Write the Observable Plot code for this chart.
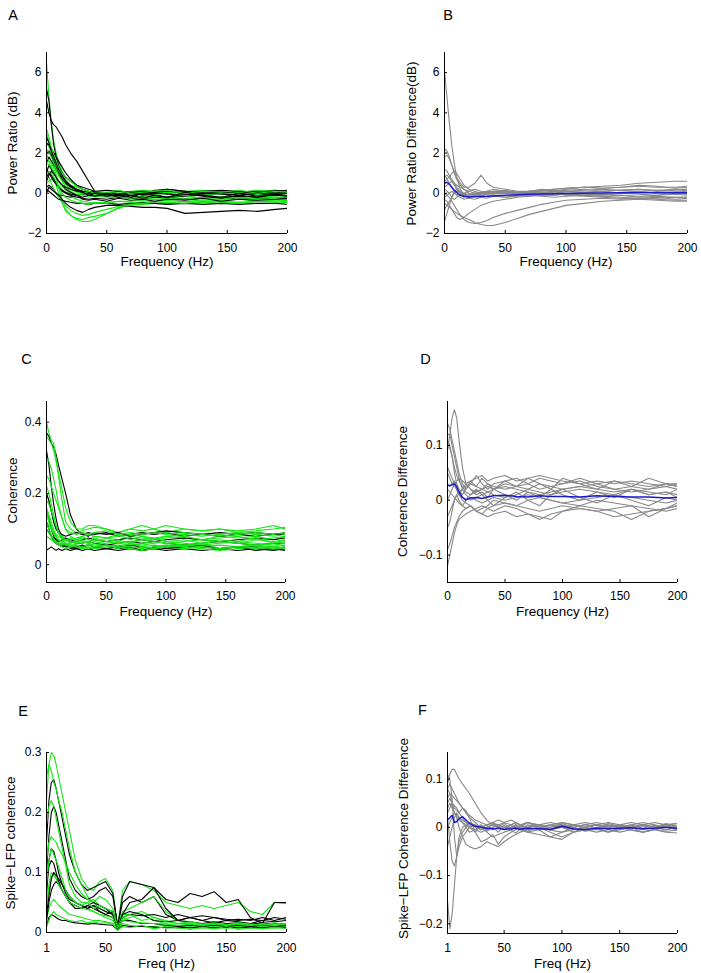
<!DOCTYPE html>
<html><head><meta charset="utf-8">
<script src="https://cdn.jsdelivr.net/npm/d3@7"></script>
<script src="https://cdn.jsdelivr.net/npm/@observablehq/plot@0.6"></script>
<style>
body{margin:0;background:#fff;}
#wrap{position:relative;width:701px;height:973px;background:#fff;overflow:hidden;}
#wrap svg{position:absolute;}
</style></head><body><div id="wrap"></div>
<script>
// ---------- frequency grids ----------
const freqAB = [0,2,4,6,8,10,13,16,20,25, 30,35,40,50,60,70,80,90,100,115, 130,145,160,175,190,200];
const freqCD = freqAB;
const freqEF = [1,3,5,7,9,11,14,17,20,25, 30,35,40,45,50,56,60,64,70,80, 90,100,110,120,130,140,150,160,170,180, 190,200];

// ---------- tick values ----------
const xTicksFreq = [0,50,100,150,200];
const xTicksFreqE = [1,50,100,150,200];
const yTicksA = [-2,0,2,4,6];
const yTicksC = [0,0.2,0.4];
const yTicksD = [-0.1,0,0.1];
const yTicksE = [0,0.1,0.2,0.3];
const yTicksF = [-0.2,-0.1,0,0.1];

// ---------- Panel A: power ratio (dB) ----------
const powerGreen = [
  [6.5,4.8,3.5,2.6,2.0,1.6,1.1,0.7,0.3,0.1, 0.0,-0.05,0.0,-0.1,0.0,-0.1,0.05,-0.05,0.0,0.1, -0.05,0.0,0.1,0.0,0.05,0.1],
  [3.0,2.6,2.0,1.4,0.8,0.3,-0.3,-0.8,-1.1,-1.3, -1.4,-1.4,-1.3,-1.0,-0.7,-0.5,-0.45,-0.4,-0.35,-0.3, -0.35,-0.3,-0.3,-0.25,-0.3,-0.3],
  [2.0,1.6,1.2,0.8,0.4,0.0,-0.5,-0.9,-1.1,-1.25, -1.3,-1.2,-1.15,-1.0,-0.75,-0.55,-0.5,-0.5,-0.45,-0.4, -0.45,-0.4,-0.45,-0.4,-0.4,-0.35],
  [1.0,0.8,0.5,0.2,0.0,-0.2,-0.4,-0.6,-0.85,-1.0, -1.1,-1.05,-0.95,-0.8,-0.65,-0.6,-0.55,-0.5,-0.5,-0.5, -0.45,-0.5,-0.45,-0.5,-0.5,-0.45],
  [2.5,2.3,2.0,1.7,1.4,1.1,0.8,0.6,0.4,0.3, 0.2,0.1,0.05,0.0,-0.05,0.0,0.1,0.0,0.05,0.0, -0.1,0.0,0.05,-0.05,0.0,0.05],
  [3.2,2.8,2.3,1.9,1.6,1.3,1.0,0.8,0.6,0.35, 0.2,0.1,-0.05,-0.1,-0.15,-0.1,-0.2,-0.15,-0.2,-0.25, -0.2,-0.25,-0.2,-0.3,-0.25,-0.2],
  [0.5,0.6,0.7,0.6,0.5,0.4,0.2,0.0,-0.15,-0.3, -0.4,-0.45,-0.5,-0.45,-0.4,-0.4,-0.35,-0.3,-0.35,-0.3, -0.4,-0.35,-0.3,-0.4,-0.35,-0.3],
  [1.8,1.6,1.5,1.3,1.1,0.9,0.7,0.5,0.3,0.15, 0.0,-0.1,-0.15,-0.2,-0.2,-0.25,-0.2,-0.3,-0.25,-0.3, -0.2,-0.25,-0.3,-0.25,-0.2,-0.25],
  [1.2,1.3,1.4,1.3,1.1,0.9,0.6,0.4,0.2,0.05, -0.05,0.0,0.1,0.05,0.0,0.1,0.15,0.1,0.05,0.1, 0.15,0.1,0.05,0.15,0.1,0.1],
  [2.2,2.0,1.8,1.5,1.2,0.9,0.6,0.3,0.1,-0.05, -0.1,-0.2,-0.05,-0.15,-0.25,-0.1,-0.2,-0.05,-0.2,-0.1, -0.3,-0.15,-0.25,-0.1,-0.2,-0.15],
  [1.5,1.4,1.3,1.1,0.9,0.6,0.35,0.15,0.0,-0.1, -0.05,0.1,0.0,0.05,0.15,0.0,0.05,0.1,0.15,0.0, 0.1,0.05,0.15,0.0,0.1,0.05],
  [0.9,1.1,1.0,0.8,0.6,0.3,0.0,-0.2,-0.35,-0.45, -0.5,-0.55,-0.45,-0.5,-0.4,-0.45,-0.5,-0.4,-0.45,-0.5, -0.4,-0.45,-0.5,-0.4,-0.45,-0.4]
];
const powerBlack = [
  [5.2,4.6,3.4,2.4,1.8,1.4,1.0,0.8,0.6,0.4, 0.3,0.2,0.1,0.0,0.1,0.0,-0.05,0.1,0.0,0.05, 0.1,0.0,-0.1,0.05,0.0,0.1],
  [4.6,4.0,3.6,3.4,3.3,3.1,2.8,2.4,2.0,1.6, 1.1,0.6,0.1,-0.1,-0.05,0.0,-0.1,0.05,0.1,0.0, -0.05,0.05,0.0,-0.1,0.0,0.05],
  [0.3,0.4,0.3,0.2,0.0,-0.1,-0.3,-0.5,-0.7,-0.85, -0.95,-0.8,-0.7,-0.6,-0.6,-0.65,-0.7,-0.7,-0.75,-1.0, -0.95,-0.9,-0.85,-0.9,-0.8,-0.75],
  [0.2,0.1,0.0,-0.1,-0.2,-0.3,-0.35,-0.4,-0.45,-0.5, -0.5,-0.55,-0.5,-0.5,-0.55,-0.5,-0.45,-0.5,-0.55,-0.5, -0.55,-0.5,-0.55,-0.5,-0.5,-0.55],
  [2.5,2.4,2.2,2.0,1.8,1.6,1.3,1.0,0.7,0.4, 0.2,0.1,0.05,0.0,0.1,0.05,0.0,0.15,0.2,0.1, 0.05,0.1,0.0,0.1,0.15,0.1],
  [1.5,1.8,1.6,1.4,1.2,1.0,0.8,0.6,0.4,0.2, 0.1,0.0,-0.1,-0.15,-0.1,-0.2,-0.15,-0.1,-0.2,-0.15, -0.1,-0.2,-0.15,-0.2,-0.1,-0.15],
  [0.8,1.0,0.9,0.7,0.5,0.3,0.1,0.0,-0.1,-0.2, -0.25,-0.3,-0.25,-0.3,-0.2,-0.25,-0.3,-0.2,-0.25,-0.3, -0.25,-0.2,-0.3,-0.25,-0.2,-0.25],
  [2.0,2.1,1.9,1.6,1.3,1.0,0.7,0.5,0.3,0.2, 0.1,0.05,0.0,-0.05,0.0,-0.1,-0.05,0.0,-0.05,-0.1, 0.0,-0.05,-0.1,0.0,-0.05,0.0],
  [0.0,0.3,0.2,0.1,0.0,-0.1,-0.1,-0.15,-0.2,-0.1, -0.05,0.0,0.05,0.0,-0.05,0.05,0.1,0.05,0.2,0.1, 0.0,0.05,0.1,0.05,0.0,0.05],
  [1.0,1.4,1.2,1.0,0.8,0.6,0.4,0.3,0.2,0.1, 0.05,0.0,0.1,0.15,0.1,0.05,0.0,0.05,0.1,0.05, 0.1,0.15,0.1,0.05,0.1,0.15],
  [1.2,1.0,0.8,0.6,0.45,0.3,0.15,0.05,-0.05,-0.1, -0.2,-0.1,-0.15,-0.05,-0.2,-0.1,-0.25,-0.1,-0.2,-0.05, -0.15,-0.25,-0.1,-0.2,-0.05,-0.15],
  [2.8,2.5,2.1,1.8,1.5,1.2,0.9,0.6,0.35,0.15, 0.05,-0.1,0.0,-0.15,-0.05,-0.2,0.0,-0.1,-0.2,0.05, -0.1,-0.2,0.0,-0.15,-0.05,-0.1],
  [0.6,0.9,1.1,1.0,0.8,0.6,0.4,0.2,0.05,-0.1, -0.3,-0.35,-0.3,-0.4,-0.25,-0.35,-0.3,-0.4,-0.3,-0.35, -0.25,-0.4,-0.3,-0.35,-0.3,-0.25]
];

// ---------- Panel B: power ratio difference (dB) ----------
const powerDiffGray = [
  [6.1,4.8,3.5,2.4,1.5,0.8,0.2,-0.1,-0.2,-0.1, 0.0,0.0,0.05,0.0,-0.05,0.0,0.05,0.1,0.0,0.05, 0.1,0.0,0.05,0.0,-0.05,0.0],
  [2.2,2.1,1.8,1.4,1.0,0.7,0.4,0.2,0.0,-0.1, -0.1,-0.05,0.0,0.0,0.05,0.1,0.15,0.2,0.25,0.3, 0.35,0.4,0.5,0.55,0.6,0.6],
  [1.8,1.9,1.7,1.4,1.1,0.8,0.5,0.3,0.3,0.5, 0.9,0.5,0.3,0.2,0.1,0.1,0.15,0.2,0.25,0.3, 0.25,0.3,0.35,0.3,0.3,0.35],
  [-1.4,-1.0,-0.6,-0.2,0.1,0.2,0.0,-0.2,-0.1,0.0, 0.05,0.0,-0.05,0.0,-0.05,0.0,-0.1,-0.05,0.0,-0.1, -0.15,-0.1,-0.2,-0.15,-0.2,-0.2],
  [-0.3,-0.4,-0.6,-0.8,-1.0,-1.2,-1.3,-1.2,-1.0,-0.8, -0.6,-0.5,-0.4,-0.3,-0.2,-0.15,-0.1,-0.1,-0.05,-0.1, -0.15,-0.2,-0.25,-0.3,-0.35,-0.35],
  [0.0,-0.1,-0.2,-0.4,-0.6,-0.8,-1.1,-1.3,-1.45,-1.5, -1.45,-1.35,-1.2,-1.0,-0.85,-0.7,-0.55,-0.45,-0.35,-0.3, -0.25,-0.3,-0.25,-0.2,-0.3,-0.25],
  [-0.5,-0.6,-0.7,-0.8,-0.9,-1.0,-1.1,-1.2,-1.3,-1.45, -1.55,-1.6,-1.6,-1.45,-1.25,-1.05,-0.9,-0.75,-0.6,-0.5, -0.4,-0.35,-0.3,-0.25,-0.2,-0.2],
  [1.2,1.1,0.9,0.7,0.5,0.3,0.1,0.0,-0.05,0.0, 0.05,0.1,0.05,0.0,0.05,0.1,0.05,0.0,0.1,0.15, 0.2,0.15,0.1,0.15,0.2,0.2],
  [0.8,0.9,0.8,0.6,0.4,0.2,0.05,-0.1,-0.15,-0.1, -0.05,0.0,0.05,0.1,0.05,0.0,-0.05,0.0,-0.1,-0.15, -0.2,-0.25,-0.3,-0.35,-0.4,-0.4],
  [0.3,0.4,0.5,0.6,0.5,0.4,0.3,0.2,0.1,0.0, 0.0,0.1,0.2,0.1,0.05,0.1,0.15,0.1,0.2,0.3, 0.25,0.3,0.4,0.35,0.25,0.3],
  [-0.2,-0.1,0.0,0.1,0.0,-0.05,-0.1,-0.15,-0.2,-0.15, -0.1,-0.15,-0.1,-0.2,-0.15,-0.1,-0.15,-0.2,-0.15,-0.1, -0.05,-0.1,-0.15,-0.1,-0.05,-0.1],
  [0.6,0.7,0.8,1.0,1.1,1.0,0.7,0.4,0.2,0.1, 0.0,-0.05,0.0,0.05,0.0,0.05,0.0,0.05,0.1,0.05, 0.0,0.05,0.1,0.0,0.05,0.1],
  [0.2,0.1,0.0,-0.2,-0.3,-0.2,-0.1,0.0,0.1,0.2, 0.1,0.0,0.1,0.15,0.05,0.1,0.2,0.1,0.15,0.2, 0.1,0.15,0.2,0.15,0.1,0.15],
  [0.9,0.7,0.5,0.3,0.1,-0.1,-0.2,-0.3,-0.25,-0.3, -0.2,-0.25,-0.15,-0.2,-0.1,-0.15,-0.05,-0.1,0.0,-0.05, -0.1,0.0,-0.05,-0.1,0.0,-0.05],
  [-0.8,-0.6,-0.4,-0.2,0.0,0.1,0.05,-0.05,-0.1,-0.05, 0.0,0.05,0.1,0.05,0.0,0.05,0.1,0.15,0.1,0.05, 0.1,0.15,0.2,0.1,0.15,0.2]
];
const powerDiffMean = [0.5,0.55,0.45,0.3,0.15,0.05,-0.1,-0.15,-0.18,-0.17, -0.16,-0.15,-0.13,-0.1,-0.07,-0.05,-0.03,-0.02,-0.01,0.0, 0.02,0.03,0.03,0.04,0.03,0.03];

// ---------- Panel C: coherence ----------
const cohGreen = [
  [0.40,0.37,0.35,0.34,0.30,0.25,0.18,0.12,0.10,0.09, 0.095,0.10,0.105,0.10,0.09,0.10,0.095,0.10,0.09,0.10, 0.095,0.10,0.09,0.095,0.10,0.105],
  [0.36,0.35,0.34,0.32,0.29,0.26,0.21,0.16,0.12,0.10, 0.10,0.11,0.11,0.10,0.09,0.10,0.11,0.10,0.11,0.10, 0.095,0.10,0.095,0.10,0.11,0.10],
  [0.25,0.24,0.22,0.20,0.18,0.16,0.13,0.10,0.08,0.07, 0.075,0.07,0.08,0.075,0.07,0.08,0.075,0.07,0.08,0.075, 0.07,0.08,0.075,0.08,0.07,0.08],
  [0.20,0.18,0.15,0.12,0.10,0.09,0.08,0.07,0.065,0.06, 0.06,0.065,0.06,0.065,0.06,0.055,0.06,0.065,0.06,0.055, 0.06,0.065,0.06,0.055,0.06,0.065],
  [0.15,0.13,0.11,0.09,0.08,0.07,0.065,0.06,0.055,0.055, 0.05,0.055,0.05,0.055,0.05,0.045,0.05,0.055,0.05,0.045, 0.05,0.055,0.05,0.045,0.05,0.055],
  [0.12,0.11,0.10,0.09,0.085,0.08,0.075,0.07,0.07,0.075, 0.08,0.085,0.08,0.075,0.08,0.085,0.08,0.075,0.08,0.085, 0.08,0.085,0.09,0.085,0.08,0.085],
  [0.18,0.17,0.15,0.13,0.11,0.09,0.07,0.06,0.055,0.05, 0.045,0.05,0.045,0.05,0.055,0.05,0.045,0.05,0.055,0.05, 0.045,0.04,0.045,0.05,0.045,0.05],
  [0.30,0.29,0.27,0.24,0.21,0.17,0.13,0.10,0.09,0.085, 0.09,0.085,0.09,0.095,0.085,0.09,0.085,0.09,0.085,0.09, 0.085,0.08,0.085,0.09,0.085,0.09],
  [0.10,0.09,0.08,0.07,0.065,0.06,0.06,0.055,0.06,0.065, 0.06,0.065,0.07,0.065,0.06,0.065,0.07,0.065,0.06,0.065, 0.07,0.065,0.06,0.07,0.065,0.07],
  [0.16,0.14,0.12,0.10,0.08,0.07,0.06,0.055,0.05,0.06, 0.065,0.06,0.055,0.06,0.065,0.06,0.055,0.06,0.065,0.06, 0.055,0.06,0.065,0.06,0.055,0.06],
  [0.08,0.075,0.07,0.065,0.06,0.055,0.05,0.045,0.05,0.055, 0.05,0.045,0.05,0.055,0.05,0.045,0.04,0.045,0.05,0.055, 0.05,0.045,0.05,0.055,0.05,0.045],
  [0.12,0.10,0.085,0.07,0.065,0.06,0.055,0.06,0.05,0.055, 0.045,0.06,0.05,0.055,0.045,0.06,0.05,0.045,0.055,0.05, 0.06,0.045,0.05,0.055,0.045,0.05],
  [0.22,0.20,0.17,0.14,0.11,0.09,0.075,0.07,0.075,0.065, 0.07,0.06,0.075,0.065,0.07,0.06,0.07,0.075,0.065,0.07, 0.06,0.07,0.065,0.075,0.06,0.07],
  [0.14,0.12,0.1,0.085,0.075,0.07,0.065,0.07,0.06,0.07, 0.08,0.07,0.065,0.075,0.085,0.07,0.08,0.07,0.075,0.08, 0.07,0.075,0.08,0.07,0.075,0.08]
];
const cohBlack = [
  [0.37,0.36,0.34,0.33,0.31,0.28,0.24,0.20,0.14,0.10, 0.085,0.09,0.085,0.09,0.08,0.085,0.09,0.085,0.09,0.08, 0.085,0.09,0.085,0.08,0.085,0.09],
  [0.32,0.28,0.22,0.17,0.13,0.10,0.08,0.07,0.065,0.06, 0.06,0.065,0.06,0.055,0.06,0.065,0.06,0.065,0.06,0.055, 0.06,0.065,0.06,0.055,0.06,0.06],
  [0.04,0.045,0.05,0.045,0.04,0.045,0.04,0.045,0.04,0.045, 0.04,0.045,0.04,0.045,0.04,0.045,0.04,0.045,0.04,0.045, 0.04,0.045,0.04,0.045,0.04,0.045],
  [0.15,0.13,0.10,0.08,0.07,0.06,0.055,0.05,0.05,0.045, 0.05,0.055,0.05,0.045,0.05,0.055,0.05,0.045,0.05,0.055, 0.05,0.045,0.05,0.05,0.045,0.05],
  [0.20,0.18,0.15,0.12,0.10,0.09,0.085,0.08,0.085,0.09, 0.085,0.08,0.09,0.085,0.09,0.08,0.085,0.09,0.095,0.09, 0.085,0.08,0.085,0.09,0.085,0.085],
  [0.10,0.09,0.08,0.075,0.07,0.065,0.07,0.075,0.07,0.065, 0.07,0.075,0.07,0.065,0.07,0.075,0.07,0.065,0.07,0.075, 0.07,0.065,0.07,0.075,0.07,0.075],
  [0.12,0.10,0.08,0.065,0.06,0.055,0.05,0.055,0.045,0.05, 0.055,0.045,0.05,0.055,0.045,0.05,0.04,0.05,0.045,0.05, 0.055,0.045,0.05,0.04,0.045,0.04]
];

// ---------- Panel D: coherence difference ----------
const cohDiffGray = [
  [0.09,0.12,0.15,0.165,0.15,0.11,0.06,0.03,0.02,0.015, 0.02,0.025,0.02,0.03,0.025,0.02,0.03,0.025,0.02,0.025, 0.03,0.02,0.025,0.02,0.03,0.025],
  [0.14,0.13,0.11,0.09,0.07,0.05,0.03,0.02,0.03,0.045, 0.03,0.02,0.03,0.035,0.04,0.03,0.04,0.035,0.03,0.04, 0.03,0.035,0.03,0.025,0.03,0.03],
  [0.12,0.12,0.10,0.08,0.06,0.04,0.02,0.01,0.0,0.005, 0.01,0.015,0.01,0.005,0.01,0.02,0.015,0.01,0.015,0.02, 0.015,0.01,0.02,0.015,0.01,0.02],
  [-0.12,-0.10,-0.08,-0.06,-0.045,-0.035,-0.03,-0.025,-0.02,-0.015, -0.01,-0.015,-0.01,-0.005,-0.01,-0.015,-0.02,-0.015,-0.01,-0.015, -0.02,-0.015,-0.01,-0.015,-0.02,-0.015],
  [-0.09,-0.08,-0.065,-0.05,-0.04,-0.03,-0.02,-0.015,-0.01,-0.02, -0.025,-0.03,-0.025,-0.02,-0.03,-0.025,-0.035,-0.025,-0.02,-0.015, -0.02,-0.03,-0.025,-0.02,-0.015,-0.01],
  [0.05,0.04,0.03,0.025,0.02,0.01,0.0,-0.005,-0.01,-0.02, -0.015,-0.01,0.0,-0.005,-0.01,0.0,0.005,0.0,-0.005,-0.01, 0.0,-0.005,-0.01,-0.03,-0.015,-0.005],
  [0.0,0.01,0.02,0.03,0.035,0.04,0.035,0.03,0.035,0.04, 0.045,0.035,0.04,0.045,0.035,0.04,0.045,0.04,0.035,0.03, 0.035,0.03,0.035,0.03,0.025,0.03],
  [0.02,0.015,0.01,0.005,0.0,-0.005,-0.01,-0.015,-0.01,-0.02, -0.025,-0.015,-0.02,-0.01,-0.015,-0.025,-0.03,-0.035,-0.02,-0.01, -0.015,-0.02,-0.035,-0.02,-0.015,-0.01],
  [0.1,0.095,0.08,0.06,0.045,0.035,0.025,0.015,0.01,0.015, 0.02,0.015,0.02,0.025,0.02,0.015,0.01,0.015,0.02,0.025, 0.02,0.015,0.02,0.01,0.015,0.01],
  [-0.03,-0.02,-0.01,0.0,0.01,0.015,0.02,0.025,0.03,0.025, 0.02,0.03,0.025,0.02,0.025,0.03,0.02,0.025,0.03,0.035, 0.025,0.02,0.015,0.02,0.025,0.02],
  [0.03,0.025,0.03,0.035,0.02,0.01,0.005,0.0,0.005,0.0, -0.005,0.0,0.005,0.0,0.005,0.01,0.005,0.0,-0.005,0.0, 0.005,0.01,0.005,0.0,-0.005,0.0],
  [0.06,0.05,0.04,0.03,0.02,0.01,0.02,0.03,0.02,0.01, 0.015,0.005,0.02,0.01,0.0,0.015,0.005,0.02,0.01,0.0, 0.015,0.005,0.02,0.01,0.015,0.005],
  [-0.05,-0.04,-0.02,0.0,0.01,0.0,-0.01,0.0,0.01,0.02, 0.01,0.0,-0.01,0.005,0.015,0.0,-0.01,0.01,0.02,0.005, -0.005,0.01,0.0,-0.01,0.005,0.0],
  [0.11,0.1,0.08,0.05,0.03,0.02,0.01,0.02,0.035,0.025, 0.04,0.03,0.02,0.035,0.025,0.04,0.03,0.02,0.04,0.03, 0.02,0.035,0.025,0.04,0.03,0.025]
];
const cohDiffMean = [0.027,0.027,0.028,0.03,0.025,0.015,0.005,0.001,0.004,0.005, 0.003,0.006,0.008,0.009,0.007,0.006,0.008,0.007,0.007,0.006, 0.008,0.007,0.006,0.006,0.004,0.005];

// ---------- Panel E: spike-LFP coherence ----------
const slcGreen = [
  [0.22,0.28,0.30,0.295,0.28,0.26,0.23,0.20,0.17,0.12, 0.09,0.075,0.07,0.085,0.09,0.07,0.01,0.07,0.085,0.08, 0.07,0.05,0.045,0.04,0.045,0.04,0.045,0.05,0.035,0.03, 0.05,0.048],
  [0.26,0.28,0.27,0.25,0.24,0.22,0.20,0.17,0.14,0.10, 0.08,0.06,0.05,0.04,0.035,0.03,0.01,0.025,0.02,0.015, 0.015,0.01,0.012,0.01,0.012,0.01,0.012,0.01,0.012,0.01, 0.012,0.01],
  [0.12,0.15,0.16,0.155,0.15,0.14,0.13,0.115,0.10,0.08, 0.065,0.055,0.05,0.06,0.055,0.04,0.008,0.035,0.04,0.05, 0.06,0.035,0.02,0.015,0.012,0.015,0.012,0.01,0.012,0.015, 0.012,0.01],
  [0.04,0.08,0.10,0.095,0.09,0.085,0.08,0.07,0.06,0.05, 0.045,0.04,0.035,0.03,0.025,0.02,0.008,0.02,0.025,0.03, 0.02,0.015,0.01,0.008,0.01,0.008,0.01,0.008,0.01,0.008, 0.01,0.008],
  [0.02,0.04,0.05,0.055,0.05,0.045,0.04,0.035,0.03,0.028, 0.025,0.022,0.02,0.02,0.018,0.015,0.005,0.015,0.012,0.01, 0.01,0.008,0.007,0.008,0.007,0.008,0.007,0.008,0.007,0.008, 0.007,0.008],
  [0.18,0.21,0.22,0.21,0.19,0.17,0.14,0.11,0.08,0.06, 0.05,0.05,0.055,0.045,0.04,0.035,0.008,0.03,0.03,0.035, 0.025,0.02,0.015,0.015,0.012,0.015,0.012,0.015,0.012,0.015, 0.012,0.015],
  [0.05,0.07,0.09,0.1,0.09,0.08,0.07,0.06,0.05,0.045, 0.04,0.038,0.035,0.03,0.028,0.025,0.006,0.02,0.018,0.016, 0.015,0.014,0.012,0.014,0.012,0.014,0.012,0.014,0.012,0.014, 0.012,0.014],
  [0.01,0.02,0.03,0.035,0.03,0.028,0.025,0.022,0.02,0.018, 0.02,0.016,0.018,0.015,0.017,0.014,0.004,0.01,0.008,0.012, 0.006,0.01,0.008,0.005,0.009,0.006,0.01,0.005,0.008,0.006, 0.009,0.007],
  [0.08,0.12,0.14,0.13,0.12,0.11,0.09,0.07,0.06,0.05, 0.045,0.05,0.04,0.045,0.04,0.035,0.008,0.025,0.03,0.02, 0.025,0.018,0.015,0.018,0.014,0.016,0.013,0.016,0.014,0.012, 0.016,0.013]
];
const slcBlack = [
  [0.15,0.22,0.25,0.255,0.24,0.22,0.19,0.16,0.13,0.10, 0.08,0.07,0.075,0.08,0.085,0.065,0.01,0.06,0.085,0.08, 0.075,0.055,0.05,0.065,0.06,0.068,0.05,0.055,0.025,0.015, 0.05,0.05],
  [0.10,0.16,0.20,0.21,0.20,0.18,0.15,0.12,0.09,0.07, 0.06,0.055,0.06,0.07,0.075,0.06,0.01,0.05,0.06,0.05, 0.06,0.03,0.02,0.025,0.02,0.025,0.02,0.022,0.02,0.025, 0.02,0.025],
  [0.06,0.12,0.14,0.135,0.12,0.10,0.08,0.065,0.055,0.05, 0.045,0.04,0.045,0.04,0.035,0.03,0.006,0.03,0.05,0.055, 0.075,0.04,0.02,0.018,0.015,0.018,0.015,0.016,0.014,0.016, 0.015,0.014],
  [0.08,0.11,0.12,0.115,0.10,0.085,0.07,0.06,0.05,0.045, 0.04,0.045,0.04,0.035,0.03,0.025,0.006,0.02,0.02,0.015, 0.015,0.012,0.01,0.012,0.01,0.012,0.01,0.012,0.01,0.012, 0.01,0.012],
  [0.01,0.025,0.03,0.028,0.025,0.022,0.02,0.02,0.018,0.016, 0.015,0.014,0.015,0.014,0.013,0.012,0.004,0.012,0.01,0.01, 0.009,0.008,0.009,0.008,0.009,0.008,0.009,0.008,0.009,0.008, 0.009,0.008],
  [0.02,0.05,0.07,0.08,0.085,0.08,0.07,0.06,0.05,0.04, 0.04,0.045,0.05,0.045,0.04,0.03,0.006,0.025,0.03,0.028, 0.03,0.025,0.03,0.025,0.028,0.025,0.022,0.02,0.022,0.02, 0.025,0.022],
  [0.03,0.06,0.09,0.1,0.095,0.09,0.08,0.07,0.06,0.05, 0.045,0.04,0.045,0.035,0.03,0.035,0.006,0.03,0.035,0.03, 0.02,0.018,0.02,0.025,0.02,0.016,0.02,0.018,0.015,0.02, 0.018,0.02]
];

// ---------- Panel F: spike-LFP coherence difference ----------
const slcDiffGray = [
  [-0.15,-0.21,-0.18,-0.12,-0.06,-0.02,0.0,0.005,0.0,-0.005, 0.0,0.005,-0.005,0.0,-0.005,0.0,0.002,-0.003,0.0,0.005, -0.005,0.0,0.005,-0.003,0.0,0.004,-0.002,0.0,0.003,-0.002, 0.0,-0.003],
  [0.11,0.10,0.06,-0.02,-0.06,-0.04,-0.02,-0.01,0.0,0.005, -0.005,0.0,0.005,0.0,-0.005,0.005,-0.003,0.004,0.0,-0.005, 0.0,0.004,-0.004,0.0,0.005,-0.004,0.0,0.005,-0.002,0.004, 0.0,-0.004],
  [0.09,0.11,0.12,0.12,0.11,0.10,0.09,0.08,0.07,0.05, 0.03,0.015,0.005,0.005,0.0,-0.005,0.0,-0.005,0.005,0.0, -0.005,0.0,-0.01,0.0,0.005,0.0,-0.005,0.0,0.005,0.0, -0.005,0.0],
  [0.08,0.09,0.08,0.07,0.06,0.05,0.04,0.03,0.02,-0.01, -0.03,-0.025,-0.015,-0.035,-0.02,-0.01,-0.005,0.0,-0.01,-0.005, -0.02,-0.01,-0.005,0.0,-0.005,0.0,0.005,0.0,-0.005,0.0, 0.005,0.0],
  [0.04,0.05,0.04,0.03,0.02,0.0,-0.02,-0.035,-0.04,-0.045, -0.04,-0.03,-0.035,-0.04,-0.03,-0.02,-0.015,-0.01,-0.005,0.0, -0.01,-0.02,-0.01,-0.005,0.0,-0.01,-0.005,0.0,-0.01,-0.005, 0.0,-0.005],
  [0.02,-0.03,-0.07,-0.08,-0.06,-0.03,-0.01,0.0,0.01,0.005, 0.0,0.005,0.01,0.005,0.0,0.005,0.01,0.005,0.0,0.005, 0.01,0.005,0.0,0.005,0.01,0.005,0.0,0.005,0.01,0.005, 0.0,0.005],
  [0.06,0.07,0.065,0.06,0.055,0.05,0.04,0.03,0.025,0.015, 0.01,0.005,0.01,0.015,0.01,0.005,0.01,0.005,0.01,0.005, 0.0,0.01,0.005,0.0,0.005,0.01,0.005,0.0,0.005,0.01, 0.005,0.008],
  [0.05,0.06,0.05,0.04,0.035,0.03,0.04,0.035,0.02,0.01, 0.0,-0.01,-0.02,-0.015,-0.01,-0.005,0.0,-0.005,-0.01,-0.015, -0.02,-0.025,-0.01,-0.005,-0.01,-0.005,-0.01,-0.005,-0.01,-0.005, -0.01,-0.012],
  [0.0,0.01,0.02,0.03,0.025,0.02,0.015,0.01,0.005,0.0, -0.005,0.0,0.005,0.0,-0.005,0.0,0.005,0.0,-0.005,0.0, 0.005,0.0,-0.005,0.0,0.005,0.0,-0.005,0.0,0.005,0.0, -0.005,0.0],
  [0.08,0.07,0.05,0.03,0.02,0.015,0.01,0.005,0.0,-0.005, -0.01,-0.005,0.0,0.005,0.01,0.015,0.01,0.005,0.01,0.0, 0.005,0.01,0.005,0.01,0.005,0.0,0.005,0.01,0.005,0.0, 0.005,0.008],
  [0.03,0.04,0.05,0.045,0.04,0.03,0.02,0.01,0.0,-0.01, 0.005,-0.005,0.01,0.0,0.008,-0.004,0.006,0.0,0.01,0.004, -0.006,0.008,0.0,0.006,-0.004,0.008,0.002,-0.004,0.006,0.0, 0.008,0.002],
  [-0.04,-0.02,0.0,0.02,0.03,0.02,0.01,0.0,-0.01,-0.005, 0.005,-0.008,0.0,-0.01,0.004,-0.006,-0.012,-0.004,-0.008,0.0, -0.006,-0.01,0.0,-0.008,-0.004,-0.01,0.0,-0.006,-0.01,-0.004, -0.008,-0.006]
];
const slcDiffMean = [0.015,0.02,0.025,0.01,0.012,0.018,0.022,0.015,0.008,0.002, 0.0,-0.002,-0.003,-0.002,-0.004,-0.003,-0.002,-0.004,-0.002,-0.003, -0.004,0.002,-0.003,-0.005,-0.002,-0.003,-0.002,-0.001,-0.003,-0.002, 0.0,-0.002];

// ---------- styling ----------
const GREEN = "#14e614", BLACK = "#000000", GRAY = "#888888", BLUE = "#1a1acc";
const FONT = "'Liberation Sans', Arial, Helvetica, sans-serif";
const fmt = d => (d < 0 ? "\u2212" : "") + String(Math.abs(d));

function interleave(a, b) {
  const out = [];
  const n = Math.max(a.length, b.length);
  for (let i = 0; i < n; i++) { if (i < a.length) out.push(a[i]); if (i < b.length) out.push(b[i]); }
  return out;
}

function panel(cfg) {
  const [fx0, fx1, fy0, fy1] = cfg.frame;
  const [cl, ct, cw, ch] = cfg.cell;
  const mL = fx0 - cl, mR = cl + cw - fx1, mT = fy0 - ct, mB = ct + ch - fy1;
  const pw = fx1 - fx0, ph = fy1 - fy0;
  const marks = [];
  cfg.series.forEach(s => {
    const rows = s.values.map((v, i) => ({f: cfg.freq[i], v}));
    marks.push(Plot.line(rows, {x: "f", y: "v", stroke: s.color, strokeWidth: s.width || 1.1, clip: true}));
  });
  marks.push(Plot.ruleX([cfg.xDomain[0]], {stroke: "#000"}));
  marks.push(Plot.ruleY([cfg.yDomain[0]], {stroke: "#000"}));
  marks.push(Plot.tickX(cfg.xTicks, {x: d => d, insetTop: ph - 3, stroke: "#000"}));
  marks.push(Plot.tickY(cfg.yTicks, {y: d => d, insetRight: pw - 3, stroke: "#000"}));
  marks.push(Plot.axisX(cfg.xTicks, {tickSize: 0, tickPadding: cfg.xPad, label: null, tickFormat: fmt, fontSize: 12}));
  marks.push(Plot.axisY(cfg.yTicks, {tickSize: 0, tickPadding: 5, label: null, tickFormat: fmt, fontSize: 12}));
  const txt = (str, X, Y, extra) => Plot.text([str], Object.assign({
    text: d => d, frameAnchor: "top-left", dx: X - cl - mL, dy: Y - ct - mT,
    textAnchor: "middle", lineAnchor: "middle", fill: "#000"}, extra));
  marks.push(txt(cfg.letter, cfg.letterPos[0], cfg.letterPos[1], {fontSize: 14.5}));
  marks.push(txt(cfg.yTitle, cfg.yTitlePos[0], cfg.yTitlePos[1], {fontSize: 13.5, rotate: -90}));
  marks.push(txt(cfg.xTitle, cfg.xTitlePos[0], cfg.xTitlePos[1], {fontSize: 13.5}));
  const svg = Plot.plot({
    width: cw, height: ch,
    marginLeft: mL, marginRight: mR, marginTop: mT, marginBottom: mB,
    x: {domain: cfg.xDomain},
    y: {domain: cfg.yDomain},
    style: {fontFamily: FONT, fontSize: "12px", background: "transparent", color: "#000"},
    marks
  });
  svg.style.left = cl + "px";
  svg.style.top = ct + "px";
  document.getElementById("wrap").appendChild(svg);
}

const mk = (arr, color, width) => arr.map(values => ({values, color, width}));

panel({
  cell: [0, 0, 350, 300], frame: [46, 287, 52, 233],
  freq: freqAB, xDomain: [0, 200], yDomain: [-2, 7], xTicks: xTicksFreq, yTicks: yTicksA, xPad: 9.5,
  series: interleave(mk(powerGreen, GREEN), mk(powerBlack, BLACK)),
  letter: "A", letterPos: [12.5, 15],
  yTitle: "Power Ratio (dB)", yTitlePos: [11.7, 142.5],
  xTitle: "Frequency (Hz)", xTitlePos: [166.5, 261]
});
panel({
  cell: [350, 0, 351, 300], frame: [444, 687, 52, 233],
  freq: freqAB, xDomain: [0, 200], yDomain: [-2, 7], xTicks: xTicksFreq, yTicks: yTicksA, xPad: 9.5,
  series: mk(powerDiffGray, GRAY).concat(mk([powerDiffMean], BLUE, 1.5)),
  letter: "B", letterPos: [447.5, 15],
  yTitle: "Power Ratio Difference(dB)", yTitlePos: [411, 143],
  xTitle: "Frequency (Hz)", xTitlePos: [565.5, 261]
});
panel({
  cell: [0, 330, 350, 300], frame: [46, 285, 401, 582],
  freq: freqCD, xDomain: [0, 200], yDomain: [-0.05, 0.458], xTicks: xTicksFreq, yTicks: yTicksC, xPad: 8.7,
  series: interleave(mk(cohBlack, BLACK), mk(cohGreen, GREEN)),
  letter: "C", letterPos: [26, 359],
  yTitle: "Coherence", yTitlePos: [11.7, 490],
  xTitle: "Frequency (Hz)", xTitlePos: [165.5, 611]
});
panel({
  cell: [350, 330, 351, 300], frame: [447, 677, 401, 582],
  freq: freqCD, xDomain: [0, 200], yDomain: [-0.15, 0.18], xTicks: xTicksFreq, yTicks: yTicksD, xPad: 8.7,
  series: mk(cohDiffGray, GRAY).concat(mk([cohDiffMean], BLUE, 1.5)),
  letter: "D", letterPos: [425, 359],
  yTitle: "Coherence Difference", yTitlePos: [401.7, 491],
  xTitle: "Frequency (Hz)", xTitlePos: [562, 611]
});
panel({
  cell: [0, 680, 350, 293], frame: [46, 286, 752, 932],
  freq: freqEF, xDomain: [1, 200], yDomain: [0, 0.3], xTicks: xTicksFreqE, yTicks: yTicksE, xPad: 10.5,
  series: interleave(mk(slcGreen, GREEN), mk(slcBlack, BLACK)),
  letter: "E", letterPos: [22.5, 711],
  yTitle: "Spike\u2212LFP coherence", yTitlePos: [10, 842.5],
  xTitle: "Freq (Hz)", xTitlePos: [166, 963]
});
panel({
  cell: [350, 680, 351, 293], frame: [447, 677, 752, 933],
  freq: freqEF, xDomain: [1, 200], yDomain: [-0.22, 0.155], xTicks: xTicksFreqE, yTicks: yTicksF, xPad: 9.5,
  series: mk(slcDiffGray, GRAY).concat(mk([slcDiffMean], BLUE, 1.5)),
  letter: "F", letterPos: [422, 710],
  yTitle: "Spike\u2212LFP Coherence Difference", yTitlePos: [403, 838],
  xTitle: "Freq (Hz)", xTitlePos: [562, 963]
});
</script></body></html>
